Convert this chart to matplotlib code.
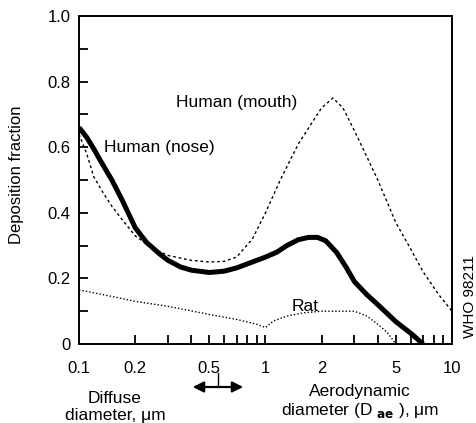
import matplotlib
matplotlib.use("Agg")
import matplotlib.pyplot as plt
from matplotlib.ticker import FixedLocator, FixedFormatter, NullLocator

plt.rcParams['font.family'] = ['Liberation Sans', 'DejaVu Sans']

# Data
nose_x = [0.1, 0.11, 0.12, 0.13, 0.15, 0.17, 0.2, 0.23, 0.27, 0.3, 0.35, 0.4, 0.5, 0.6, 0.7, 0.85, 1.0, 1.15, 1.3, 1.5, 1.7, 1.9, 2.1, 2.4, 2.7, 3.0, 3.5, 4.0, 5.0, 6.0, 7.0]
nose_y = [0.66, 0.63, 0.595, 0.56, 0.50, 0.44, 0.355, 0.31, 0.275, 0.255, 0.235, 0.225, 0.218, 0.222, 0.232, 0.25, 0.265, 0.28, 0.30, 0.318, 0.325, 0.325, 0.315, 0.28, 0.235, 0.19, 0.15, 0.12, 0.068, 0.033, 0.0]

mouth_x = [0.1, 0.11, 0.12, 0.135, 0.15, 0.17, 0.2, 0.25, 0.3, 0.4, 0.5, 0.6, 0.7, 0.85, 1.0, 1.2, 1.5, 1.8, 2.0, 2.3, 2.6, 3.0, 3.5, 4.0, 5.0, 6.0, 7.0, 8.5, 10.0]
mouth_y = [0.64, 0.58, 0.51, 0.46, 0.42, 0.38, 0.33, 0.29, 0.27, 0.255, 0.25, 0.252, 0.265, 0.32, 0.40, 0.50, 0.61, 0.68, 0.72, 0.75, 0.72, 0.65, 0.57, 0.50, 0.37, 0.29, 0.22, 0.15, 0.10]

rat_x = [0.1, 0.15, 0.2, 0.3, 0.5, 0.7, 0.9, 1.0, 1.1, 1.3, 1.6, 2.0, 2.5, 3.0, 3.5, 4.0, 4.5, 5.0]
rat_y = [0.165, 0.145, 0.13, 0.115, 0.09, 0.075, 0.06, 0.05, 0.07, 0.085, 0.095, 0.1, 0.1, 0.1, 0.085, 0.06, 0.035, 0.0]

x_ticks = [0.1, 0.2, 0.5, 1, 2, 5, 10]
x_tick_labels = ['0.1', '0.2', '0.5', '1', '2', '5', '10']
x_tick_marks = [0.2, 0.3, 0.4, 0.5, 0.6, 0.7, 0.8, 0.9, 1, 2, 3, 4, 5, 6, 7, 8, 9]
y_ticks = [0, 0.2, 0.4, 0.6, 0.8, 1.0]
y_tick_labels = ['0', '0.2', '0.4', '0.6', '0.8', '1.0']
y_tick_marks = [0.1, 0.2, 0.3, 0.4, 0.5, 0.6, 0.7, 0.8, 0.9]

fig = plt.figure(figsize=(4.77, 4.23), dpi=100)
ax = fig.add_axes([79/477, (423-344)/423, (452-79)/477, (344-16)/423])

ax.plot(nose_x, nose_y, color='black', lw=3.6, solid_capstyle='butt', solid_joinstyle='round')
ax.plot(mouth_x, mouth_y, color='black', lw=1.0, linestyle=(0, (2.0, 2.0)))
ax.plot(rat_x, rat_y, color='black', lw=1.0, linestyle=(0, (1.0, 1.5)))

ax.set_xscale('log')
ax.set_xlim(0.1, 10)
ax.set_ylim(0, 1.0)

ax.xaxis.set_major_locator(FixedLocator(x_ticks))
ax.xaxis.set_major_formatter(FixedFormatter(x_tick_labels))
ax.xaxis.set_minor_locator(NullLocator())
ax.yaxis.set_major_locator(FixedLocator(y_ticks))
ax.yaxis.set_major_formatter(FixedFormatter(y_tick_labels))
ax.yaxis.set_minor_locator(NullLocator())

ax.tick_params(axis='both', which='both', length=0, labelsize=12)
ax.tick_params(axis='y', pad=6)
ax.tick_params(axis='x', pad=12)
for sp in ax.spines.values():
    sp.set_linewidth(1.4)

# inward tick marks
ax.vlines(x_tick_marks, 0, 0.028, transform=ax.get_xaxis_transform(), color='black', lw=1.3)
ax.hlines(y_tick_marks, 0, 0.024, transform=ax.get_yaxis_transform(), color='black', lw=1.3)

ax.text(0.136, 0.60, 'Human (nose)', fontsize=12.5, ha='left', va='center')
ax.text(0.33, 0.735, 'Human (mouth)', fontsize=12.5, ha='left', va='center')
ax.text(1.63, 0.115, 'Rat', fontsize=12.5, ha='center', va='center')

fig.text(17/477, 1 - 175/423, 'Deposition fraction', rotation=90, fontsize=12, ha='center', va='center')
fig.text(470/477, 1 - 297/423, 'WHO 98211', rotation=90, fontsize=11, ha='center', va='center')

fig.text(115/477, 1 - 407/423, 'Diffuse\ndiameter, \u03bcm', fontsize=12.5, ha='center', va='center', linespacing=1.15)
fig.text(360/477, 1 - 402/423, 'Aerodynamic\ndiameter (D $_{\\mathbf{ae}}$ ), \u03bcm', fontsize=12.5, ha='center', va='center', linespacing=1.15)

fig.add_artist(matplotlib.patches.FancyArrowPatch((190/477, 1 - 387/423), (246/477, 1 - 387/423),
               transform=fig.transFigure, arrowstyle='<|-|>', mutation_scale=16, lw=1.6, color='black'))
fig.add_artist(matplotlib.lines.Line2D([218/477, 218/477], [1 - 373/423, 1 - 387/423],
               transform=fig.transFigure, color='black', lw=1.0))

fig.savefig('out.png', dpi=100)
